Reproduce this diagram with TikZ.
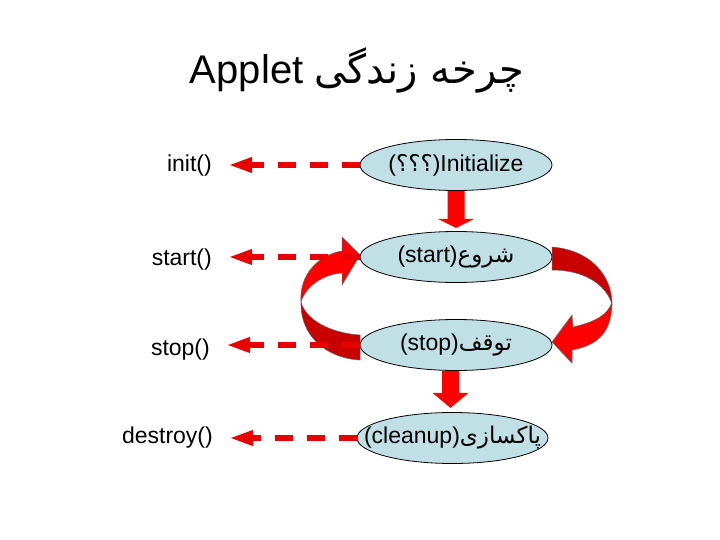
\documentclass[tikz,border=0pt]{standalone}
\usepackage{fontspec}
\setmainfont{Liberation Sans}
\newfontfamily\arabicfont[Script=Arabic]{DejaVu Sans}
\TeXXeTstate=1
\usetikzlibrary{shapes.geometric,arrows.meta,calc}
\definecolor{ellfill}{RGB}{192,224,230}
\definecolor{brightred}{RGB}{255,0,0}
\definecolor{darkred}{RGB}{200,0,0}
\definecolor{dashred}{RGB}{232,0,0}
\tikzset{
 stage/.style={ellipse, draw=black, line width=0.8pt, fill=ellfill, minimum width=192pt, minimum height=51pt, inner sep=0pt, font=\fontsize{23}{26}\selectfont},
 method/.style={anchor=east, inner sep=0pt, font=\fontsize{23}{26}\selectfont},
 calls/.style={dashred, line width=6pt, dash pattern=on 18pt off 14pt, shorten >=16pt, -{Triangle[length=24pt,width=14pt]}},
 blockarrow/.style={fill=brightred, draw=none},
 ribbonlight/.style={fill=brightred, draw=black!60, line width=0.5pt},
 ribbondark/.style={fill=darkred, draw=black!60, line width=0.5pt},
}
\begin{document}
\begin{tikzpicture}[x=1pt,y=-1pt]
\useasboundingbox (0,0) rectangle (720,540);
% title
\node[inner sep=0pt, font=\fontsize{40}{44}\selectfont] (title) at (357,70) {Applet {\arabicfont\beginR چرخه زندگی\endR}};
% stages
\node[stage] (init) at (456,165) {\makebox[0pt]{({\arabicfont ؟؟؟})Initialize}};
\node[stage] (start) at (456,257) {\makebox[0pt]{(start){\arabicfont\beginR شروع\endR}}};
\node[stage] (stop) at (456,345) {\makebox[0pt]{(stop){\arabicfont\beginR توقف\endR}}};
\node[stage, minimum width=191pt] (clean) at (452.5,438) {\makebox[0pt]{(cleanup){\arabicfont\beginR پاکسازی\endR}}};
% method labels
\node[method] (m1) at (212,166) {init()};
\node[method] (m2) at (212,260) {start()};
\node[method] (m3) at (210,350) {stop()};
\node[method] (m4) at (213,438) {destroy()};
% down block arrows
\fill[blockarrow] ($(init.south)+(-8.5,0)$) -- ($(init.south)+(-8.5,28)$) -- ($(init.south)+(-18,28)$) -- ($(init.south)+(0,37)$) -- ($(init.south)+(18,28)$) -- ($(init.south)+(8.5,28)$) -- ($(init.south)+(8.5,0)$) -- cycle;
\fill[blockarrow] ($(stop.south)+(-14,0)$) -- ($(stop.south)+(-14,22)$) -- ($(stop.south)+(-23.5,22)$) -- ($(stop.south)+(-5.5,37)$) -- ($(stop.south)+(12.5,22)$) -- ($(stop.south)+(3,22)$) -- ($(stop.south)+(3,0)$) -- cycle;
% left curved ribbon arrow (stop -> start)
\filldraw[ribbondark] (301,302) .. controls (300,335) and (325,358) .. (360,360) -- (360,335) .. controls (330,333) and (306,320) .. (301,302) -- cycle;
\filldraw[ribbonlight] (301,302) .. controls (299,275) and (318,255) .. (342,251) -- (342,237) -- (360,255) -- (342,285) -- (342,273) .. controls (325,274) and (306,285) .. (301,302) -- cycle;
% right curved ribbon arrow (start -> stop)
\filldraw[ribbondark] (552,247) .. controls (590,250) and (612,275) .. (612,304) .. controls (606,285) and (585,270) .. (552,270) -- cycle;
\filldraw[ribbonlight] (612,302) .. controls (612,330) and (600,345) .. (572,350) -- (572,363) -- (552,342) -- (572,315) -- (573,327) .. controls (595,322) and (608,315) .. (612,302) -- cycle;
% dashed call arrows
\draw[calls] (init.west) -- (init.west -| m1.east);
\draw[calls] (start.west) -- (start.west -| m2.east);
\draw[calls] (stop.west) -- (stop.west -| m3.east);
\draw[calls] (clean.west) -- (clean.west -| m4.east);
\end{tikzpicture}
\end{document}
